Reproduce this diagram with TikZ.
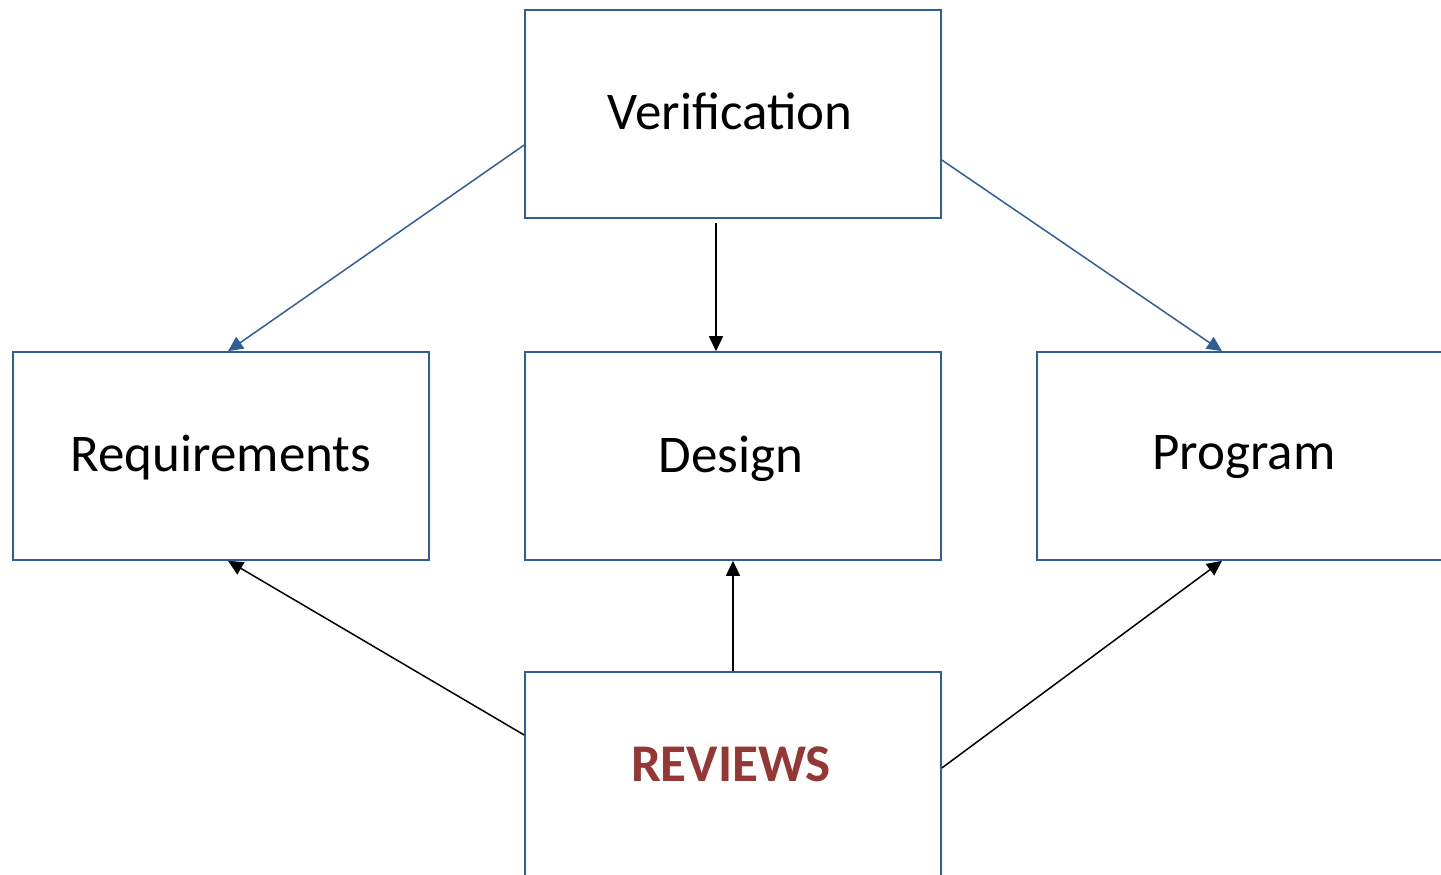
\documentclass[tikz,border=0pt]{standalone}
\usepackage{fontspec}
\setmainfont{Carlito}
\usetikzlibrary{arrows.meta}
\definecolor{boxblue}{HTML}{2E5F96}
\definecolor{revred}{HTML}{953735}
\tikzset{
  stagebox/.style={draw=boxblue, line width=1.6pt, minimum width=416pt, minimum height=208pt, inner sep=0pt, fill=white},
  label/.style={font=\fontsize{53}{62}\selectfont, anchor=base},
  bluearrow/.style={draw=boxblue, line width=1.5pt, -{Triangle[length=15pt,width=14pt]}},
  blackarrow/.style={draw=black, line width=1.5pt, -{Triangle[length=15pt,width=14pt]}}
}
\begin{document}
\begin{tikzpicture}[x=1pt,y=-1pt]
  \useasboundingbox (0,0) rectangle (1441,875);
  \clip (0,0) rectangle (1441,875);

  % stage boxes
  \node[stagebox] (ver) at (733,114) {};
  \node[stagebox] (req) at (221,456) {};
  \node[stagebox] (des) at (733,456) {};
  \node[stagebox] (prog) at (1245,456) {};
  \node[stagebox] (rev) at (733,776) {};

  % box captions
  \node[label] (vert) at (730,129) {Verification};
  \node[label] (reqt) at (221,471) {Requirements};
  \node[label] (dest) at (731,472) {Design};
  \node[label] (progt) at (1244,469) {Program};
  \node[label, text=revred, font=\fontsize{53}{62}\selectfont\bfseries] (revt) at (731,781) {REVIEWS};

  % verification feeds the three stages
  \draw[bluearrow] ([yshift=-31pt]ver.west) -- ([xshift=7pt]req.north);
  \draw[blackarrow] ([xshift=-17pt,yshift=-4pt]ver.south) -- ([xshift=-17pt]des.north);
  \draw[bluearrow] ([yshift=-46pt]ver.east) -- ([xshift=-23pt]prog.north);

  % reviews feed the three stages
  \draw[blackarrow] ([yshift=41pt]rev.west) -- ([xshift=7pt]req.south);
  \draw[blackarrow] (rev.north) -- (des.south);
  \draw[blackarrow] ([yshift=8pt]rev.east) -- ([xshift=-23pt]prog.south);
\end{tikzpicture}
\end{document}
